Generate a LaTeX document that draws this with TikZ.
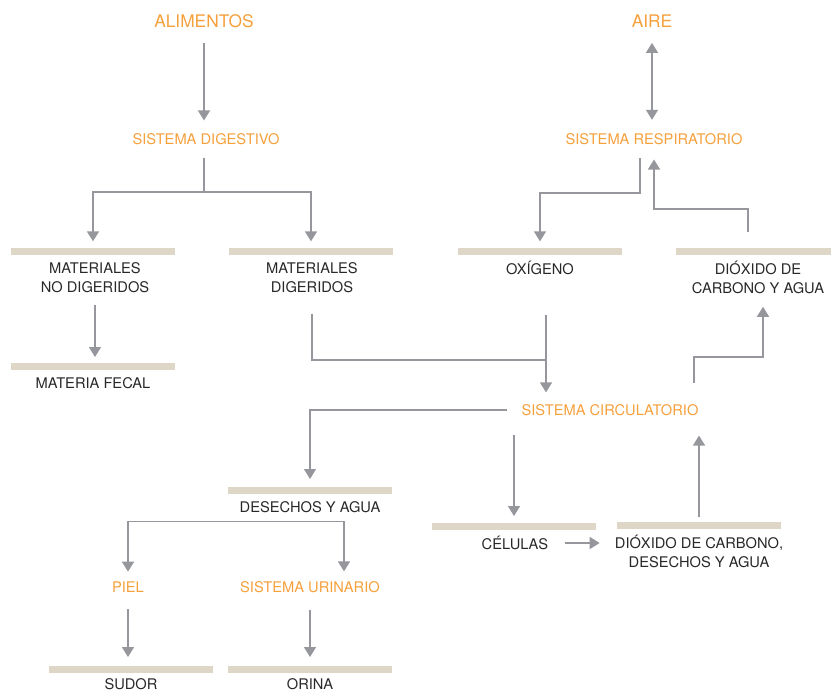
\documentclass[tikz,border=0pt]{standalone}
\usepackage{fontspec}
\setmainfont{TeX Gyre Heros}
\usetikzlibrary{arrows.meta}
\definecolor{naranja}{RGB}{246,160,60}
\definecolor{gris}{RGB}{150,151,156}
\definecolor{beige}{RGB}{222,214,199}
\definecolor{tinta}{RGB}{40,40,40}
\tikzset{
  titulo/.style={text=naranja,font=\fontsize{13}{15.6}\selectfont,inner sep=0pt},
  sistema/.style={text=naranja,font=\fontsize{11}{14.25}\selectfont,inner sep=0pt},
  texto/.style={text=tinta,font=\fontsize{11}{14.25}\selectfont,align=center,inner sep=0pt},
  barra/.style={fill=beige,minimum width=123pt,minimum height=5pt,inner sep=0pt,anchor=north},
  linea/.style={draw=gris,line width=1.1pt},
  flecha/.style={linea,-{Triangle[length=7.5pt,width=9pt]}},
  doble/.style={linea,{Triangle[length=7.5pt,width=9pt]}-{Triangle[length=7.5pt,width=9pt]}}
}
\begin{document}
\begin{tikzpicture}[x=0.75pt,y=-0.75pt]
  \useasboundingbox (0,0) rectangle (831,692);
  \node[titulo] (alim) at (204,21) {ALIMENTOS};
  \node[titulo] (aire) at (652,21) {AIRE};
  \node[sistema] (digest) at (206,139) {SISTEMA DIGESTIVO};
  \node[sistema] (resp) at (654,139) {SISTEMA RESPIRATORIO};
  \node[sistema] (circ) at (610,410) {SISTEMA CIRCULATORIO};
  \node[sistema] (piel) at (128,587) {PIEL};
  \node[sistema] (urin) at (310,587) {SISTEMA URINARIO};
  \node[barra] (bNoDig) at (93,248) {};
  \node[barra] (bDig) at (311,248) {};
  \node[barra] (bOx) at (540,248) {};
  \node[barra] (bDiox) at (758,248) {};
  \node[barra] (bFecal) at (93,363) {};
  \node[barra] (bDes) at (310,487) {};
  \node[barra] (bCel) at (514,523) {};
  \node[barra] (bDiox2) at (699,522) {};
  \node[barra] (bSudor) at (131,666) {};
  \node[barra] (bOrina) at (310,666) {};
  \node[texto] (tNoDig) at (95,277.5) {MATERIALES\\NO DIGERIDOS};
  \node[texto] (tDig) at (312,277.5) {MATERIALES\\DIGERIDOS};
  \node[texto] (tOx) at (540,268) {OXÍGENO};
  \node[texto] (tDiox) at (758,277.5) {DIÓXIDO DE\\CARBONO Y AGUA};
  \node[texto] (tFecal) at (93,383) {MATERIA FECAL};
  \node[texto] (tDes) at (310,507) {DESECHOS Y AGUA};
  \node[texto] (tCel) at (515,543) {CÉLULAS};
  \node[texto] (tDiox2) at (699,551.5) {DIÓXIDO DE CARBONO,\\DESECHOS Y AGUA};
  \node[texto] (tSudor) at (131,684.5) {SUDOR};
  \node[texto] (tOrina) at (310,684.5) {ORINA};

  \draw[flecha,shorten <=11pt,shorten >=9.5pt] (alim.south) -- (alim.south |- digest.north);
  \draw[doble,shorten <=11.5pt,shorten >=10pt] (aire.south) -- (aire.south |- resp.north);
  \draw[linea,shorten <=9.5pt] (alim.south |- digest.south) -- ++(0,47) coordinate (bifDig);
  \draw[flecha,shorten >=5pt] (bifDig) -| (bNoDig.north);
  \draw[flecha,shorten >=5pt] (bifDig) -| (bDig.north);
  \draw[flecha,shorten <=10pt,shorten >=5pt] ([xshift=-10.5pt]resp.south) -- ++(0,48) -| (bOx.north);
  \draw[flecha,shorten <=12pt,shorten >=11pt] ([xshift=-7.5pt]bDiox.north) -- ++(0,-39) -| (resp.south);
  \draw[flecha,shorten <=8.8pt,shorten >=4.5pt] (tNoDig.south) -- (tNoDig.south |- bFecal.north);
  \coordinate (salOx) at ([xshift=4.5pt]tOx.south);
  \path (salOx) ++(0,85) coordinate (union);
  \draw[linea,shorten <=15.5pt] (tDig.south) |- (union);
  \draw[flecha,shorten <=29.8pt,shorten >=8.8pt] (salOx) -- (salOx |- circ.north);
  \coordinate (salCirc) at ([xshift=63pt]circ.north);
  \draw[flecha,shorten <=15.5pt,shorten >=9.5pt] (salCirc) -- ++(0,-47) -| ([xshift=3.75pt]tDiox.south);
  \draw[flecha,shorten <=10.5pt,shorten >=6pt] (circ.west) -| (bDes.north);
  \draw[flecha,shorten <=14pt,shorten >=5.25pt] (circ.south -| bCel.north) -- (bCel.north);
  \draw[flecha,shorten <=3.75pt,shorten >=14.8pt] (bDiox2.north) -- (bDiox2.north |- circ.south);
  \draw[flecha,shorten <=12pt,shorten >=11.25pt] (tCel.east) -- (tCel.east -| tDiox2.west);
  \path (tDes.south) ++(0,8.7) coordinate (bifDes);
  \draw[flecha,shorten >=7.3pt] (bifDes) -| (piel.north);
  \draw[flecha,shorten >=7.3pt] (bifDes) -| ([xshift=25.5pt]urin.north);
  \draw[flecha,shorten <=12.5pt,shorten >=6.75pt] (piel.south) -- (piel.south |- bSudor.north);
  \draw[flecha,shorten <=12.5pt,shorten >=6.75pt] (urin.south) -- (urin.south |- bOrina.north);
\end{tikzpicture}
\end{document}
